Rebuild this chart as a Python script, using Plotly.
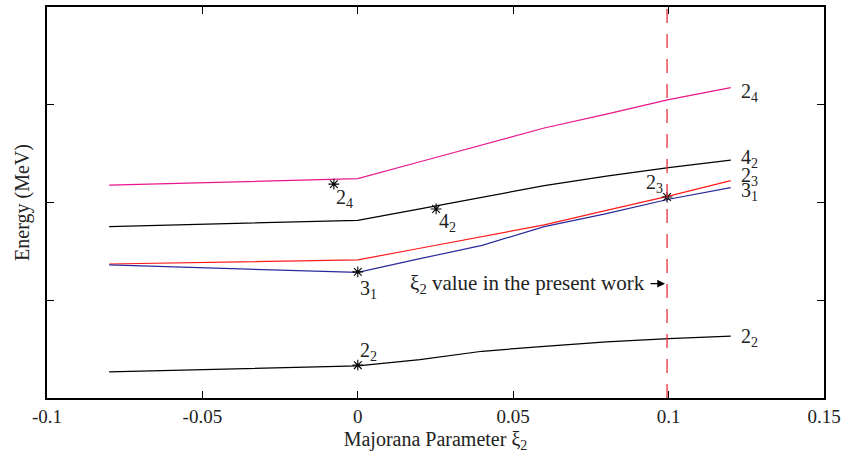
import plotly.graph_objects as go

xi = [-0.08, 0.0, 0.02, 0.04, 0.06, 0.08, 0.10, 0.12]
e_2_4 = [2.178, 2.244, 2.417, 2.590, 2.762, 2.904, 3.053, 3.176]
e_4_2 = [1.754, 1.817, 1.934, 2.054, 2.173, 2.270, 2.356, 2.433]
e_2_3 = [1.371, 1.413, 1.532, 1.649, 1.771, 1.919, 2.066, 2.224]
e_3_1 = [1.361, 1.285, 1.425, 1.562, 1.753, 1.886, 2.033, 2.153]
e_2_2 = [0.268, 0.329, 0.392, 0.478, 0.529, 0.575, 0.608, 0.634]

series = [
    ("2<sub>4</sub>", e_2_4, "#e8168c"),
    ("4<sub>2</sub>", e_4_2, "#000000"),
    ("2<sub>3</sub>", e_2_3, "#ff1a1a"),
    ("3<sub>1</sub>", e_3_1, "#2a2a9a"),
    ("2<sub>2</sub>", e_2_2, "#000000"),
]

# marked (experimental) points
mark_x = [-0.0077, 0.0252, 0.0, 0.0, 0.0995]
mark_y = [2.188, 1.934, 1.290, 0.336, 2.056]
mark_lbl = ["2<sub>4</sub>", "4<sub>2</sub>", "3<sub>1</sub>", "2<sub>2</sub>", "2<sub>3</sub>"]

xi_present = 0.0995

x_ticks = [-0.1, -0.05, 0, 0.05, 0.1, 0.15]
x_ticktext = ["-0.1", "-0.05", "0", "0.05", "0.1", "0.15"]

FONT = "Liberation Serif"
TXT = "#222"

fig = go.Figure()
for name, ys, col in series:
    fig.add_trace(go.Scatter(x=xi, y=ys, mode="lines", line=dict(color=col, width=1.2),
                             showlegend=False, hoverinfo="skip"))

fig.add_trace(go.Scatter(x=mark_x, y=mark_y, mode="markers",
                         marker=dict(symbol="asterisk-open", size=9, color="black",
                                     line=dict(width=1.1, color="black")),
                         showlegend=False))

fig.add_trace(go.Scatter(x=[xi_present, xi_present], y=[0, 4], mode="lines",
                         line=dict(color="#e8303a", width=1.3, dash="14px,11px"),
                         showlegend=False))

ann = []
# right-end labels
right_y = [3.13, 2.45, 2.265, 2.11, 0.62]
for (name, ys, col), yy in zip(series, right_y):
    ann.append(dict(x=xi[-1], y=yy, text=name, showarrow=False, xanchor="left",
                    xshift=8, font=dict(family=FONT, size=20, color=TXT)))

# marker labels: offsets in pixels
offs = [(11, -14), (11, -14), (11, -18), (11, 14), (-13, 14)]
for mx, my, lb, (dx, dy) in zip(mark_x, mark_y, mark_lbl, offs):
    ann.append(dict(x=mx, y=my, text=lb, showarrow=False, xshift=dx, yshift=dy,
                    font=dict(family=FONT, size=20, color=TXT)))

# present-work annotation
ann.append(dict(x=xi_present, y=1.17, text="ξ<sub>2</sub> value in the present work",
                showarrow=False, xanchor="right", xshift=-20,
                font=dict(family=FONT, size=21, color=TXT)))
ann.append(dict(x=xi_present, y=1.17, ax=-18, ay=0, axref="pixel", ayref="pixel",
                text="", showarrow=True, arrowhead=2, arrowsize=1.2, arrowwidth=1.3,
                arrowcolor="#000", standoff=2))

fig.update_layout(
    width=853, height=457,
    margin=dict(l=47, r=29, t=5, b=59),
    plot_bgcolor="white", paper_bgcolor="white",
    font=dict(family=FONT, size=18, color=TXT),
    annotations=ann,
)
fig.update_xaxes(range=[-0.1, 0.15], tickvals=x_ticks, ticktext=x_ticktext,
                 ticks="inside", ticklen=7, tickcolor="black", tickwidth=1,
                 showline=True, linecolor="black", linewidth=2, mirror="ticks",
                 showgrid=False, zeroline=False,
                 tickfont=dict(family=FONT, size=19, color=TXT),
                 title=dict(text="Majorana Parameter ξ<sub>2</sub>", standoff=6,
                            font=dict(family=FONT, size=20, color=TXT)))
fig.update_yaxes(range=[0, 4], tickvals=[0, 1, 2, 3, 4], showticklabels=False,
                 ticks="inside", ticklen=7, tickcolor="black", tickwidth=1,
                 showline=True, linecolor="black", linewidth=2, mirror="ticks",
                 showgrid=False, zeroline=False,
                 title=dict(text="Energy (MeV)", standoff=10,
                            font=dict(family=FONT, size=20, color=TXT)))

fig.write_html("out.html", config={"displayModeBar": False},
               post_script="document.body.style.margin='0';")
